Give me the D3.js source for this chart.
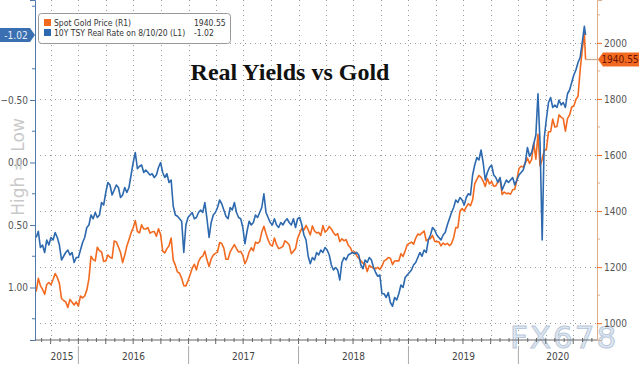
<!DOCTYPE html>
<html>
<head>
<meta charset="utf-8">
<script src="https://cdn.jsdelivr.net/npm/d3@7/dist/d3.min.js"></script>
<style>
  body { margin: 0; background: #fff; }
  svg { display: block; }
  .lbl { font-family: "Liberation Sans Narrow", "DejaVu Sans Condensed", sans-serif; }
</style>
</head>
<body>
<div id="chart"></div>
<script>
// weekly (Friday) closes, first week ending 2015-08-14
var gold2015 = [1113,1160,1134, 1121,1103,1138,1145, 1137,1156,1177,1163,1142, 1088,1081,1076,1056, 1085,1075,1065,1076];
var gold2016 = [1061,1097,1090,1097,1118, 1158,1239,1227,1222, 1271,1259,1254,1220, 1222,1243,1235,1232,1293,
                1290,1272,1252,1216, 1243,1275,1298,1322, 1340,1366,1327,1322,1351, 1336,1336,1341,1321,
                1326,1327,1310,1337,1316, 1257,1251,1266,1276, 1304,1225,1207,1183, 1178,1160,1134,1133,1151];
var gold2017 = [1173,1196,1210,1190, 1220,1234,1239,1257, 1226,1202,1229,1243,1249, 1254,1288,1284,1268,
                1228,1228,1254,1268, 1280,1266,1254,1256,1242, 1212,1228,1254,1269, 1258,1289,1285,1291,
                1325,1346,1320,1297,1280, 1275,1304,1280,1266, 1269,1274,1294,1288, 1280,1248,1257,1266,1303];
var gold2018 = [1322,1338,1332,1349, 1333,1315,1347,1329, 1322,1324,1313,1348,1325, 1332,1345,1336,1323,
                1314,1319,1291,1301, 1294,1298,1278,1270,1252, 1255,1241,1231,1223, 1214,1212,1184,1206,1201,
                1196,1194,1199,1192, 1203,1222,1227,1234, 1232,1209,1222,1223,1222, 1248,1238,1258,1280];
var gold2019 = [1285,1289,1282,1303, 1318,1315,1322,1329, 1294,1299,1302,1313,1292, 1291,1290,1276,1286,
                1280,1285,1277,1284,1305, 1341,1341,1399,1409, 1400,1415,1426,1419, 1440,1497,1513,1527,1520,
                1507,1488,1516,1497, 1505,1489,1490,1505, 1514,1459,1468,1462,1464, 1460,1476,1478,1511];
var gold2020 = [1552,1560,1557,1571,1589, 1570,1584,1643,1585, 1674,1560,1585,1617, 1620,1683,1683,1728,
                1700,1702,1743,1735,1730, 1685,1730,1743,1771, 1775,1798,1810,1902,1975, 2035];

var real2015 = [0.60,0.55,0.68, 0.66,0.72,0.62,0.66, 0.60,0.62,0.56,0.60,0.66, 0.78,0.75,0.72,0.70, 0.74,0.72,0.80,0.76];
var real2016 = [0.76,0.70,0.64,0.60,0.52, 0.50,0.42,0.45,0.40, 0.44,0.42,0.32,0.34, 0.24,0.16,0.18,0.26,0.22,
                0.18,0.20,0.28,0.26, 0.20,0.24,0.20,0.10, 0.00,-0.08,0.05,0.03,0.02, 0.08,0.06,0.08,0.10,
                0.09,0.12,0.10,0.04,0.00, 0.08,0.12,0.09,0.16, 0.14,0.35,0.42,0.43, 0.45,0.47,0.72,0.50,0.44];
var real2017 = [0.42,0.40,0.45,0.44, 0.40,0.38,0.40,0.32, 0.45,0.60,0.48,0.42,0.40, 0.36,0.30,0.33,0.38,
                0.43,0.45,0.36,0.38, 0.32,0.40,0.44,0.45,0.52, 0.65,0.55,0.47,0.50, 0.48,0.42,0.44,0.40,
                0.36,0.25,0.40,0.44,0.48, 0.50,0.45,0.50,0.52, 0.48,0.50,0.47,0.45, 0.48,0.50,0.45,0.52,0.45];
var real2018 = [0.44,0.50,0.58,0.62, 0.75,0.81,0.76,0.78, 0.72,0.74,0.70,0.72,0.68, 0.70,0.74,0.82,0.86,
                0.84,0.86,0.94,0.80, 0.76,0.78,0.74,0.73,0.72, 0.73,0.72,0.74,0.82, 0.85,0.78,0.80,0.76,0.78,
                0.84,0.88,0.91,0.90, 1.05,1.05,1.08,1.04, 1.12,1.15,1.08,1.10,1.05, 0.98,1.00,0.92,0.90];
var real2019 = [0.88,0.86,0.82,0.80, 0.76,0.72,0.75,0.70, 0.72,0.62,0.58,0.52,0.54, 0.58,0.60,0.62,0.58,
                0.56,0.50,0.45,0.40,0.36, 0.30,0.32,0.28,0.30, 0.34,0.28,0.25,0.26, 0.10,0.02,-0.04,-0.02,-0.10,
                0.00,0.14,0.08,0.04, 0.02,0.10,0.12,0.16, 0.12,0.22,0.18,0.14,0.16, 0.14,0.12,0.18,0.14];
var real2020 = [0.10,0.08,0.06,0.00,-0.12, -0.05,-0.08,-0.15,-0.22, -0.55,-0.15,0.62,-0.20, -0.35,-0.48,-0.52,-0.44,
                -0.46,-0.44,-0.50,-0.46,-0.48, -0.44,-0.55,-0.58,-0.64, -0.70,-0.74,-0.80,-0.84,-0.96, -1.09];

var lastDate = "2020-08-11", lastGold = 1940.55, lastReal = -1.02;
var years = ["2015", "2016", "2017", "2018", "2019", "2020"];
var goldTicks = [1000, 1200, 1400, 1600, 1800, 2000];
var realTicks = [-0.5, 0, 0.5, 1.0];

var W = 639, H = 369;
var padL = 35, padR = 597, padT = 0, padB = 340;
var ORANGE = "#f26a1f", BLUE = "#2d69ae";

var gold = [].concat(gold2015, gold2016, gold2017, gold2018, gold2019, gold2020);
var real = [].concat(real2015, real2016, real2017, real2018, real2019, real2020);
var start = new Date(2015, 7, 14);
var dates = gold.map(function(d, i) { return d3.timeDay.offset(start, 7 * i); });
dates.push(d3.timeParse("%Y-%m-%d")(lastDate));
gold.push(lastGold);
real.push(lastReal);

var x = d3.scaleTime().domain([new Date(2015, 7, 10), new Date(2020, 8, 18)]).range([padL, padR]);
var yL = d3.scaleLinear().domain([-1.3, 1.42]).range([padT, padB]);
var yR = d3.scaleLinear().domain([2153, 940]).range([padT, padB]);

var svg = d3.select("#chart").append("svg").attr("width", W).attr("height", H);

// grid
var grid = svg.append("g").attr("stroke", "#9a9a9a").attr("stroke-dasharray", "1,4").attr("stroke-width", 1);
grid.selectAll("line.v").data(d3.timeMonth.every(3).range(x.domain()[0], x.domain()[1]))
  .enter().append("line")
  .attr("x1", function(d) { return Math.round(x(d)) + 0.5; })
  .attr("x2", function(d) { return Math.round(x(d)) + 0.5; })
  .attr("y1", padT).attr("y2", padB);
grid.selectAll("line.h").data(goldTicks).enter().append("line")
  .attr("x1", padL).attr("x2", padR)
  .attr("y1", function(d) { return Math.round(yR(d)) + 0.5; })
  .attr("y2", function(d) { return Math.round(yR(d)) + 0.5; });

// watermark
svg.append("text").attr("x", 510).attr("y", 348)
  .attr("font-family", "DejaVu Sans, sans-serif").attr("font-size", 31)
  .attr("fill", "#dfe7f1").attr("stroke", "#b9c8da").attr("stroke-width", 1)
  .attr("letter-spacing", 2).text("FX678");

// series
var lineGold = d3.line().x(function(d, i) { return x(dates[i]); }).y(function(d) { return yR(d); });
var lineReal = d3.line().x(function(d, i) { return x(dates[i]); }).y(function(d) { return yL(d); });

svg.append("line")
  .attr("x1", x(dates[dates.length - 1])).attr("x2", padR)
  .attr("y1", yR(lastGold)).attr("y2", yR(lastGold))
  .attr("stroke", "#c9a58c").attr("stroke-width", 1.2);

svg.append("path").datum(gold).attr("d", lineGold)
  .attr("fill", "none").attr("stroke", ORANGE).attr("stroke-width", 1.6).attr("stroke-linejoin", "round");
svg.append("path").datum(real).attr("d", lineReal)
  .attr("fill", "none").attr("stroke", BLUE).attr("stroke-width", 1.6).attr("stroke-linejoin", "round");

// left axis
var axL = svg.append("g").attr("transform", "translate(" + padL + ",0)")
  .call(d3.axisLeft(yL).tickValues(realTicks).tickSize(5).tickPadding(2)
    .tickFormat(function(d) { return d === 0 ? "0.00" : d3.format(".2f")(d); }));
axL.select(".domain").attr("stroke", "#4d79ad");
axL.selectAll(".tick line").attr("stroke", "#4d79ad");
axL.selectAll("text").attr("class", "lbl").attr("font-size", 10).attr("fill", "#555");
axL.selectAll("line.minor").data([-1.25, -0.75, -0.25, 0.25, 0.75, 1.25]).enter().append("line")
  .attr("class", "minor")
  .attr("x1", -3).attr("x2", 0).attr("y1", function(d) { return yL(d); }).attr("y2", function(d) { return yL(d); })
  .attr("stroke", "#4d79ad");

// right axis
var axR = svg.append("g").attr("transform", "translate(" + padR + ",0)")
  .call(d3.axisRight(yR).tickValues(goldTicks).tickSize(5).tickPadding(2).tickFormat(d3.format("d")));
axR.select(".domain").attr("stroke", "#dcae8c");
axR.selectAll(".tick line").attr("stroke", ORANGE);
axR.selectAll("text").attr("class", "lbl").attr("font-size", 10).attr("fill", "#555");
axR.selectAll("line.minor").data([1100, 1300, 1500, 1700, 1900, 2100]).enter().append("line")
  .attr("class", "minor")
  .attr("x1", 0).attr("x2", 3).attr("y1", function(d) { return yR(d); }).attr("y2", function(d) { return yR(d); })
  .attr("stroke", "#dcae8c");

// bottom axis
var axB = svg.append("g").attr("transform", "translate(0," + padB + ")");
axB.append("line").attr("x1", padL).attr("x2", padR).attr("stroke", "#666");
axB.selectAll("line.m").data(d3.timeMonth.range(x.domain()[0], x.domain()[1])).enter().append("line")
  .attr("class", "m")
  .attr("x1", function(d) { return x(d); }).attr("x2", function(d) { return x(d); })
  .attr("y1", -2).attr("y2", function(d) { return d.getMonth() % 3 === 0 ? 4 : 2; })
  .attr("stroke", "#666");
axB.selectAll("line.y").data(years.slice(1)).enter().append("line")
  .attr("class", "y")
  .attr("x1", function(d) { return x(new Date(+d, 0, 1)); }).attr("x2", function(d) { return x(new Date(+d, 0, 1)); })
  .attr("y1", 6).attr("y2", 24).attr("stroke", "#aaa");
axB.selectAll("text").data(years).enter().append("text").attr("class", "lbl")
  .attr("x", function(d) {
    var a = Math.max(x(new Date(+d, 0, 1)), padL), b = Math.min(x(new Date(+d + 1, 0, 1)), padR);
    return d === "2015" ? 62 : (a + b) / 2;
  })
  .attr("y", 20).attr("text-anchor", "middle").attr("font-size", 10).attr("fill", "#444").text(function(d) { return d; });

// side note
svg.append("text").attr("transform", "translate(24,167) rotate(-90)")
  .attr("text-anchor", "middle").attr("font-family", "DejaVu Sans, sans-serif").attr("font-size", 17)
  .attr("fill", "#c9c9c9").text("High = Low");

// title
svg.append("text").attr("x", 290).attr("y", 80).attr("text-anchor", "middle")
  .attr("font-family", "Liberation Serif, serif").attr("font-weight", "bold").attr("font-size", 24)
  .attr("fill", "#111").text("Real Yields vs Gold");

// legend
var lg = svg.append("g").attr("class", "lbl");
lg.append("rect").attr("x", 38.5).attr("y", 13.5).attr("width", 192).attr("height", 30).attr("rx", 3)
  .attr("fill", "#fff").attr("stroke", "#999");
var items = [
  { name: "Spot Gold Price (R1)", val: "1940.55", color: ORANGE },
  { name: "10Y TSY Real Rate on 8/10/20 (L1)", val: "-1.02", color: BLUE }
];
var row = lg.selectAll("g.item").data(items).enter().append("g")
  .attr("transform", function(d, i) { return "translate(44," + (19 + i * 10) + ")"; });
row.append("rect").attr("width", 7).attr("height", 7).attr("fill", function(d) { return d.color; });
row.append("text").attr("x", 10).attr("y", 7).attr("font-size", 8.5).attr("fill", "#333").text(function(d) { return d.name; });
row.append("text").attr("x", 150).attr("y", 7).attr("font-size", 8.5).attr("fill", "#333").text(function(d) { return d.val; });

// last value tags
var ly = yL(lastReal);
svg.append("path").attr("d", "M0," + (ly - 7) + "H30L35," + ly + "L30," + (ly + 7) + "H0Z").attr("fill", "#3a70b2");
svg.append("text").attr("class", "lbl").attr("x", 16).attr("y", ly + 3.5).attr("text-anchor", "middle")
  .attr("font-size", 10).attr("fill", "#e8eef8").text("-1.02");
var gy = yR(lastGold);
svg.append("path").attr("d", "M598," + gy + "L603," + (gy - 7) + "H639V" + (gy + 7) + "H603Z").attr("fill", ORANGE);
svg.append("text").attr("class", "lbl").attr("x", 620).attr("y", gy + 3.5).attr("text-anchor", "middle")
  .attr("font-size", 10).attr("fill", "#6b1200").text("1940.55");
</script>
</body>
</html>
